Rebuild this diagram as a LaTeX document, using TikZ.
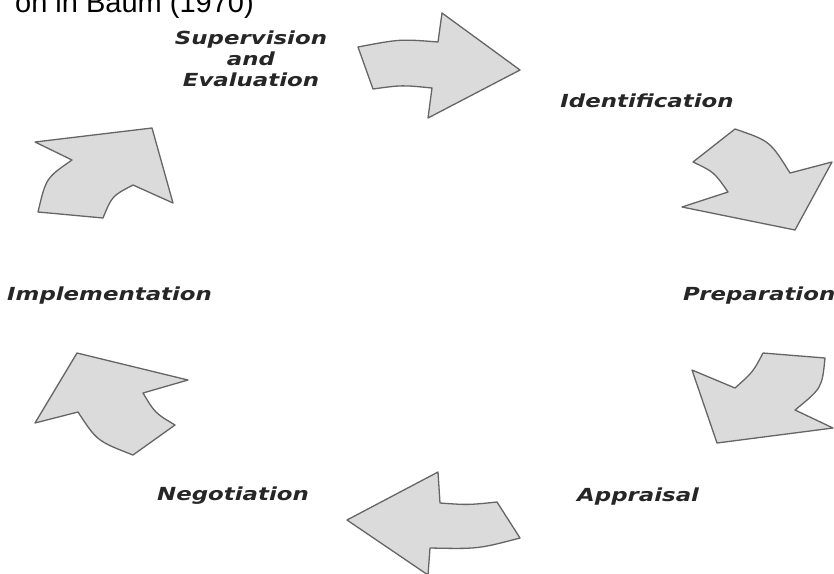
\documentclass[tikz,border=0pt]{standalone}
\usepackage{fontspec}
\setmainfont{Liberation Sans}
\newfontfamily\lblfont{DejaVu Sans}[FakeStretch=1.27]
\definecolor{arrfill}{HTML}{DBDBDB}
\definecolor{arrdraw}{HTML}{656565}
\definecolor{txt}{HTML}{262626}
\begin{document}
\begin{tikzpicture}[x=1pt,y=-1pt,
  blockarrow/.style={fill=arrfill,draw=arrdraw,line width=1.3pt,line join=round},
  lbl/.style={font=\lblfont\bfseries\itshape\fontsize{18}{21}\selectfont,text=txt,inner sep=0pt},
  head/.style={font=\fontsize{29}{32}\selectfont,text=black,inner sep=0pt}]
\useasboundingbox (0,0) rectangle (834,573);
% header (cut off at top, as in the reference)
\node[head,anchor=base west] (src) at (15,12) {on in Baum (1970)};
% arrows
\draw[blockarrow] (358,47) .. controls (400,39) .. (438,42) -- (442,13) -- (520,70) -- (428,118) -- (432,88) .. controls (402,85) .. (373,89) -- cycle;
\draw[blockarrow] (735,129) .. controls (770,141) .. (790,173) -- (832,162) -- (795,230) -- (682,207) -- (728,192) .. controls (714,172) .. (693,162) -- cycle;
\draw[blockarrow] (763,353) -- (825,358) .. controls (822,388) .. (795,410) -- (833,428) -- (717,443) -- (692,370) -- (735,388) .. controls (753,372) .. (763,353) -- cycle;
\draw[blockarrow] (347,520) -- (438,472) -- (440,503) .. controls (468,505) .. (497,502) -- (520,538) .. controls (478,549) .. (430,548) -- (428,575) -- cycle;
\draw[blockarrow] (77,353) -- (188,380) -- (143,393) .. controls (155,413) .. (175,425) -- (133,455) .. controls (97,441) .. (78,412) -- (35,423) -- cycle;
\draw[blockarrow] (152,128) -- (173,203) -- (133,185) .. controls (112,196) .. (103,218) -- (38,212) .. controls (46,178) .. (72,160) -- (35,142) -- cycle;
% labels
\node[lbl,anchor=base,align=center] (sup) at (251,86) {Supervision\\and\\Evaluation};
\node[lbl,anchor=base] (ide) at (647,107) {Identification};
\node[lbl,anchor=base west] (pre) at (683,300) {Preparation};
\node[lbl,anchor=base west] (app) at (577,501) {Appraisal};
\node[lbl,anchor=base west] (neg) at (157,500) {Negotiation};
\node[lbl,anchor=base west] (imp) at (7,300) {Implementation};
\end{tikzpicture}
\end{document}
